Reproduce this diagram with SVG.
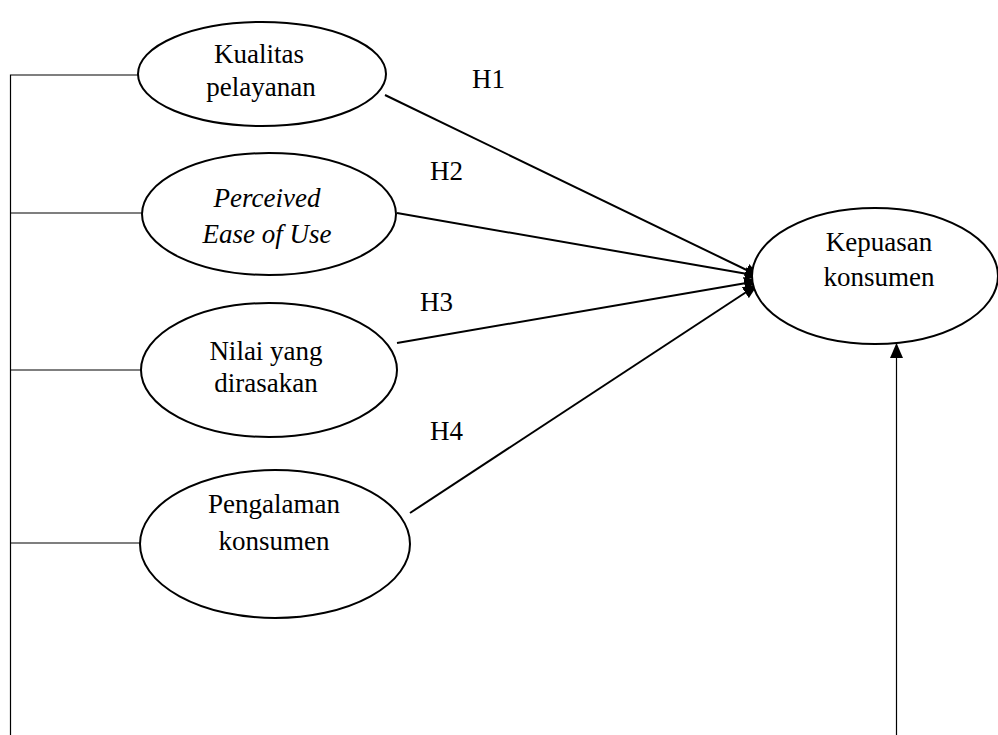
<svg xmlns="http://www.w3.org/2000/svg" width="998" height="735" viewBox="0 0 998 735">
<style>
.node ellipse{fill:#fff;stroke:#000;stroke-width:2}
text{font-family:"Liberation Serif","Times New Roman",serif;font-size:27px;fill:#000;text-anchor:middle}
.lbl{text-anchor:start}
.conn line,.conn polyline{stroke:#000;fill:none}
.thin{stroke-width:1.2}
.thick{stroke-width:2}
</style>
<defs>
<marker id="ah" viewBox="0 0 15 13" refX="14" refY="6.5" markerWidth="15" markerHeight="13" markerUnits="userSpaceOnUse" orient="auto">
<path d="M0,0 L15,6.5 L0,13 z" fill="#000"/>
</marker>
</defs>
<g class="conn" id="connectors">
<polyline class="thin" points="10.5,735 10.5,75 139,75"/>
<line class="thin" x1="10.5" y1="213" x2="142" y2="213"/>
<line class="thin" x1="10.5" y1="370" x2="141" y2="370"/>
<line class="thin" x1="10.5" y1="543" x2="140" y2="543"/>
<line class="thick" x1="385" y1="95" x2="759" y2="276" marker-end="url(#ah)"/>
<line class="thick" x1="397" y1="213" x2="759" y2="276" marker-end="url(#ah)"/>
<line class="thick" x1="397" y1="343" x2="758" y2="281" marker-end="url(#ah)"/>
<line class="thick" x1="410" y1="513" x2="757" y2="285" marker-end="url(#ah)"/>
<line class="thin" x1="896.5" y1="735" x2="896.5" y2="344" marker-end="url(#ah)"/>
<text class="lbl" x="472" y="88">H1</text>
<text class="lbl" x="430" y="180">H2</text>
<text class="lbl" x="420" y="311">H3</text>
<text class="lbl" x="430" y="440">H4</text>
</g>
<g class="node" id="kualitas">
<ellipse cx="262" cy="74" rx="124" ry="52"/>
<text x="259" y="63">Kualitas</text>
<text x="261" y="96">pelayanan</text>
</g>
<g class="node" id="peou">
<ellipse cx="269" cy="214" rx="127" ry="61"/>
<text x="267" y="207" font-style="italic">Perceived</text>
<text x="267" y="243" font-style="italic">Ease of Use</text>
</g>
<g class="node" id="nilai">
<ellipse cx="269" cy="370" rx="128" ry="67"/>
<text x="266" y="360">Nilai yang</text>
<text x="266" y="392">dirasakan</text>
</g>
<g class="node" id="pengalaman">
<ellipse cx="275" cy="544" rx="135" ry="74"/>
<text x="274" y="513">Pengalaman</text>
<text x="274" y="550">konsumen</text>
</g>
<g class="node" id="kepuasan">
<ellipse cx="875" cy="276" rx="123" ry="68"/>
<text x="879" y="251">Kepuasan</text>
<text x="879" y="286">konsumen</text>
</g>
</svg>
